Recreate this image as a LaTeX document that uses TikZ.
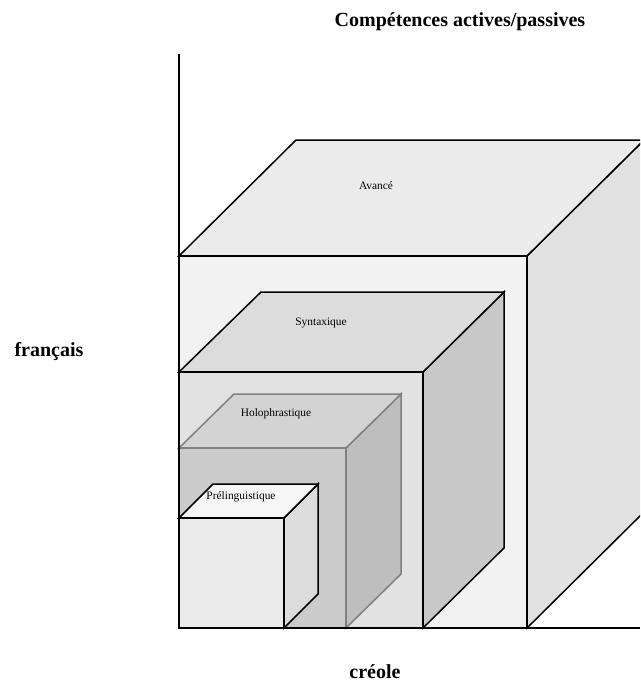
\documentclass[tikz,border=0pt]{standalone}
\usepackage{fontspec}
\setmainfont{Liberation Serif}
\usepackage{tikz}
\definecolor{avfront}{HTML}{F2F2F2}
\definecolor{avtop}{HTML}{EBEBEB}
\definecolor{avside}{HTML}{E1E1E1}
\definecolor{synfront}{HTML}{E2E2E2}
\definecolor{syntop}{HTML}{DCDCDC}
\definecolor{synside}{HTML}{C8C8C8}
\definecolor{holfront}{HTML}{CBCBCB}
\definecolor{holtop}{HTML}{D3D3D3}
\definecolor{holside}{HTML}{BEBEBE}
\definecolor{prefront}{HTML}{EBEBEB}
\definecolor{pretop}{HTML}{F6F6F6}
\definecolor{preside}{HTML}{DCDCDC}
\definecolor{holedge}{HTML}{808080}

\begin{document}
\begin{tikzpicture}[x=1pt,y=-1pt,
  face/.style={draw=black,line width=1.5pt,line join=miter},
  grayface/.style={draw=holedge,line width=1.5pt,line join=miter},
  axis/.style={draw=black,line width=1.8pt},
  biglabel/.style={font=\fontsize{20}{24}\selectfont\bfseries},
  smalllabel/.style={font=\fontsize{11.4}{13}\selectfont}]
\useasboundingbox (0,0) rectangle (640,682);
\clip (0,0) rectangle (640,682);
% Avance
\filldraw[face,fill=avside] (527,256)--(644,140)--(644,512)--(527,628)--cycle;
\filldraw[face,fill=avtop] (179,256)--(296,140)--(644,140)--(527,256)--cycle;
\filldraw[face,fill=avfront] (179,256) rectangle (527,628);
% Syntaxique
\filldraw[face,fill=synside] (423,372)--(504,292)--(504,548)--(423,628)--cycle;
\filldraw[face,fill=syntop] (179,372)--(261,292)--(504,292)--(423,372)--cycle;
\filldraw[face,fill=synfront] (179,372) rectangle (423,628);
% Holophrastique
\filldraw[grayface,fill=holside] (346,448)--(401,394)--(401,574)--(346,628)--cycle;
\filldraw[grayface,fill=holtop] (179,448)--(234,394)--(401,394)--(346,448)--cycle;
\filldraw[grayface,fill=holfront] (179,448) rectangle (346,628);
% Prelinguistique
\filldraw[face,fill=preside] (284,518)--(318,484)--(318,594)--(284,628)--cycle;
\filldraw[face,fill=pretop] (179,518)--(213,484)--(318,484)--(284,518)--cycle;
\filldraw[face,fill=prefront] (179,518) rectangle (284,628);
% axes
\coordinate (o) at (179,628);
\coordinate (ytop) at (179,54);
\coordinate (xend) at (640,628);
\draw[axis] (ytop)--(o)--(xend);
\path (460,22) node(titre)[biglabel]{Compétences actives/passives}
(49,352) node(fr)[biglabel]{français}
(375,672) node(cr)[biglabel]{créole}
(376,186) node(av)[smalllabel]{Avancé}
(321,323) node(syn)[smalllabel]{Syntaxique}
(276,414) node(hol)[smalllabel]{Holophrastique}
(241,497) node(pre)[smalllabel]{Prélinguistique};
\end{tikzpicture}
\end{document}
